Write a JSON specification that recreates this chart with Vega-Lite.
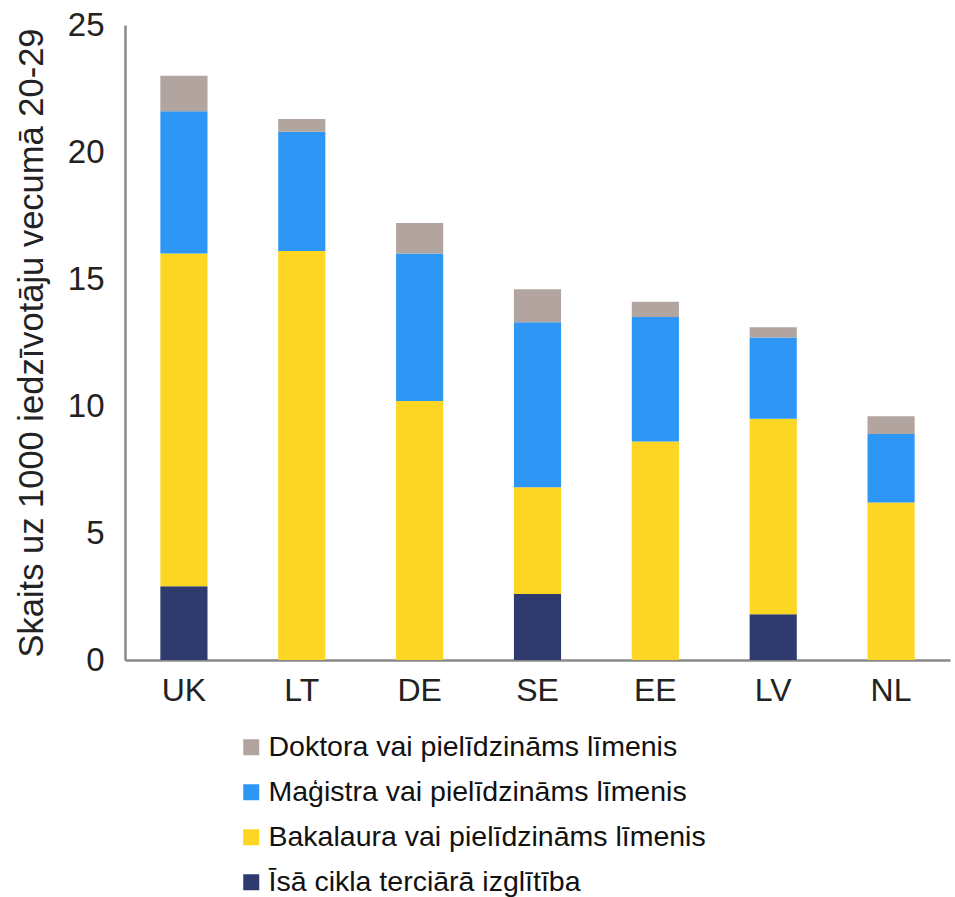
{
  "$schema": "https://vega.github.io/schema/vega-lite/v6.json",
  "width": 825,
  "height": 635,
  "autosize": {"type": "none"},
  "padding": {"left": 125, "top": 25, "right": 5, "bottom": 237},
  "background": "white",
  "config": {"view": {"stroke": null}, "font": "Liberation Sans"},
  "data": {
    "values": [
      {"country": "UK", "level": "Īsā cikla terciārā izglītība", "ord": 1, "value": 2.9},
      {"country": "UK", "level": "Bakalaura vai pielīdzināms līmenis", "ord": 2, "value": 13.1},
      {"country": "UK", "level": "Maģistra vai pielīdzināms līmenis", "ord": 3, "value": 5.6},
      {"country": "UK", "level": "Doktora vai pielīdzināms līmenis", "ord": 4, "value": 1.4},
      {"country": "LT", "level": "Bakalaura vai pielīdzināms līmenis", "ord": 2, "value": 16.1},
      {"country": "LT", "level": "Maģistra vai pielīdzināms līmenis", "ord": 3, "value": 4.7},
      {"country": "LT", "level": "Doktora vai pielīdzināms līmenis", "ord": 4, "value": 0.5},
      {"country": "DE", "level": "Bakalaura vai pielīdzināms līmenis", "ord": 2, "value": 10.2},
      {"country": "DE", "level": "Maģistra vai pielīdzināms līmenis", "ord": 3, "value": 5.8},
      {"country": "DE", "level": "Doktora vai pielīdzināms līmenis", "ord": 4, "value": 1.2},
      {"country": "SE", "level": "Īsā cikla terciārā izglītība", "ord": 1, "value": 2.6},
      {"country": "SE", "level": "Bakalaura vai pielīdzināms līmenis", "ord": 2, "value": 4.2},
      {"country": "SE", "level": "Maģistra vai pielīdzināms līmenis", "ord": 3, "value": 6.5},
      {"country": "SE", "level": "Doktora vai pielīdzināms līmenis", "ord": 4, "value": 1.3},
      {"country": "EE", "level": "Bakalaura vai pielīdzināms līmenis", "ord": 2, "value": 8.6},
      {"country": "EE", "level": "Maģistra vai pielīdzināms līmenis", "ord": 3, "value": 4.9},
      {"country": "EE", "level": "Doktora vai pielīdzināms līmenis", "ord": 4, "value": 0.6},
      {"country": "LV", "level": "Īsā cikla terciārā izglītība", "ord": 1, "value": 1.8},
      {"country": "LV", "level": "Bakalaura vai pielīdzināms līmenis", "ord": 2, "value": 7.7},
      {"country": "LV", "level": "Maģistra vai pielīdzināms līmenis", "ord": 3, "value": 3.2},
      {"country": "LV", "level": "Doktora vai pielīdzināms līmenis", "ord": 4, "value": 0.4},
      {"country": "NL", "level": "Bakalaura vai pielīdzināms līmenis", "ord": 2, "value": 6.2},
      {"country": "NL", "level": "Maģistra vai pielīdzināms līmenis", "ord": 3, "value": 2.7},
      {"country": "NL", "level": "Doktora vai pielīdzināms līmenis", "ord": 4, "value": 0.7}
    ]
  },
  "mark": {"type": "bar"},
  "encoding": {
    "x": {
      "field": "country", "type": "nominal",
      "sort": ["UK", "LT", "DE", "SE", "EE", "LV", "NL"],
      "scale": {"paddingInner": 0.6, "paddingOuter": 0.3},
      "axis": {
        "title": null, "labelAngle": 0, "labelFontSize": 32, "labelColor": "#222",
        "labelPadding": 15, "ticks": false, "domainColor": "#888", "domainWidth": 2.5
      }
    },
    "y": {
      "field": "value", "type": "quantitative", "aggregate": "sum", "stack": "zero",
      "scale": {"domain": [0, 25], "nice": false},
      "axis": {
        "title": "Skaits uz 1000 iedzīvotāju vecumā  20-29", "titleFontSize": 34.5, "titleFontWeight": "normal",
        "titleColor": "#222", "titlePadding": 18,
        "values": [0, 5, 10, 15, 20, 25], "labelFontSize": 33, "labelColor": "#222",
        "labelPadding": 21, "ticks": false, "grid": false, "domainColor": "#888", "domainWidth": 2.5
      }
    },
    "color": {
      "field": "level", "type": "nominal",
      "scale": {
        "domain": ["Doktora vai pielīdzināms līmenis", "Maģistra vai pielīdzināms līmenis", "Bakalaura vai pielīdzināms līmenis", "Īsā cikla terciārā izglītība"],
        "range": ["#B2A59F", "#2E97F5", "#FDD523", "#2F3A6E"]
      },
      "legend": {
        "title": null, "orient": "none", "legendX": 112, "legendY": 708,
        "symbolType": "square", "symbolSize": 256, "labelFontSize": 28.5, "labelColor": "#111",
        "labelLimit": 0, "rowPadding": 16, "labelOffset": 3, "symbolStrokeWidth": 0
      }
    },
    "order": {"field": "ord", "type": "quantitative"}
  }
}
